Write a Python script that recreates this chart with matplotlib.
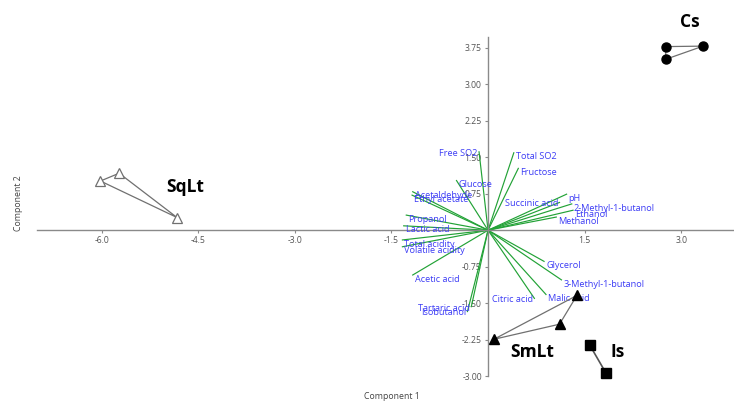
"""PCA biplot of wine samples: group hulls plus variable loadings."""

import matplotlib.pyplot as plt

# --- scores (Component 1, Component 2) per group -------------------------
CS_X = [2.76, 2.76, 3.34]
CS_Y = [3.77, 3.51, 3.78]
SQLT_X = [-6.02, -5.73, -4.83]
SQLT_Y = [1.01, 1.17, 0.26]
SMLT_X = [1.38, 1.11, 0.09]
SMLT_Y = [-1.34, -1.93, -2.24]
IS_X = [1.58, 1.83]
IS_Y = [-2.36, -2.93]

# --- loadings ---------------------------------------------------------------
VARS = ["Free SO2", "Total SO2", "Fructose", "Glucose", "Acetaldehyde",
        "Ethyl acetate", "pH", "Succinic acid", "2-Methyl-1-butanol",
        "Ethanol", "Methanol", "Propanol", "Lactic acid", "Total acidity",
        "Volatile acidity", "Acetic acid", "Glycerol", "3-Methyl-1-butanol",
        "Malic acid", "Citric acid", "Tartaric acid", "Isobutanol"]
LOAD_X = [-0.14, 0.40, 0.47, -0.49, -1.17, -1.18, 1.22, 1.11, 1.30, 1.32,
          1.06, -1.27, -1.31, -1.33, -1.33, -1.17, 0.87, 1.14, 0.90, 0.72,
          -0.26, -0.32]
LOAD_Y = [1.61, 1.59, 1.27, 1.02, 0.79, 0.72, 0.74, 0.57, 0.54, 0.41,
          0.27, 0.31, 0.09, -0.20, -0.34, -0.92, -0.64, -1.02, -1.32, -1.40,
          -1.57, -1.67]

XTICKS = [-6.0, -4.5, -3.0, -1.5, 1.5, 3.0]
YTICKS = [-3.0, -2.25, -1.5, -0.75, 0.75, 1.5, 2.25, 3.0, 3.75]

RIGHT_ALIGNED = {"Free SO2", "Succinic acid", "Citric acid", "Tartaric acid",
                 "Isobutanol"}

GREEN = "#22a236"
BLUE = "#3c3cf5"
AXC = "#8a8a8a"
FONT = "Open Sans"

fig = plt.figure(figsize=(7.34, 4.01), dpi=100)
ax = fig.add_axes([0, 0, 1, 1])
ax.set_xlim(-7.58, 3.82)
ax.set_ylim(-3.507, 4.727)
ax.patch.set_alpha(0)

for sp in ["top", "right"]:
    ax.spines[sp].set_visible(False)
ax.spines["left"].set_position(("data", 0))
ax.spines["bottom"].set_position(("data", 0))
ax.spines["left"].set_bounds(-3.0, 3.96)
ax.spines["bottom"].set_bounds(-7.0, 3.82)
for sp in ["left", "bottom"]:
    ax.spines[sp].set_color(AXC)
    ax.spines[sp].set_linewidth(1.0)

ax.set_xticks(XTICKS)
ax.set_xticklabels([f"{v:.1f}" for v in XTICKS])
ax.set_yticks(YTICKS)
ax.set_yticklabels([f"{v:.2f}" for v in YTICKS])
ax.tick_params(direction="out", length=2.5, width=0.8, color=AXC,
               labelsize=6.2, labelcolor="#555555", pad=2)
for lab in ax.get_xticklabels() + ax.get_yticklabels():
    lab.set_family(FONT)

# loadings
for name, lx, ly in zip(VARS, LOAD_X, LOAD_Y):
    ax.plot([0, lx], [0, ly], color=GREEN, lw=0.85, zorder=2)
    if name in RIGHT_ALIGNED:
        ha, off = "right", (-1, -1)
    else:
        ha, off = "left", (1.5, -3)
    ax.annotate(name, (lx, ly), xytext=off, textcoords="offset points",
                ha=ha, va="center", fontsize=6.6, color=BLUE, family=FONT,
                zorder=3)

# group hulls + markers
def hull(xs, ys, **kw):
    ax.plot(list(xs) + [xs[0]], list(ys) + [ys[0]], color="#707070",
            lw=0.9, zorder=3)
    ax.plot(xs, ys, ls="none", zorder=4, **kw)

hull(CS_X, CS_Y, marker="o", ms=6.5, mfc="black", mec="black")
hull(SQLT_X, SQLT_Y, marker="^", ms=7.5, mfc="white", mec="#707070", mew=0.9)
hull(SMLT_X, SMLT_Y, marker="^", ms=6.5, mfc="black", mec="black")
ax.plot(IS_X, IS_Y, color="#555555", lw=1.2, zorder=3)
ax.plot(IS_X, IS_Y, ls="none", marker="s", ms=6.5, mfc="black",
        mec="black", zorder=4)

for txt, gx, gy in [("Cs", 3.13, 4.27), ("SqLt", -4.71, 0.89),
                    ("SmLt", 0.68, -2.50), ("Is", 2.02, -2.50)]:
    ax.text(gx, gy, txt, fontsize=12.5, weight="bold", family=FONT,
            ha="center", va="center", color="black")

fig.text(391.5 / 734, 1 - 396.7 / 401, "Component 1", ha="center",
         va="center", fontsize=6.3, family=FONT, color="#444444")
fig.text(18.3 / 734, 1 - 203 / 401, "Component 2", ha="center",
         va="center", rotation=90, fontsize=6.3, family=FONT, color="#444444")

fig.savefig("out.png", dpi=100)
